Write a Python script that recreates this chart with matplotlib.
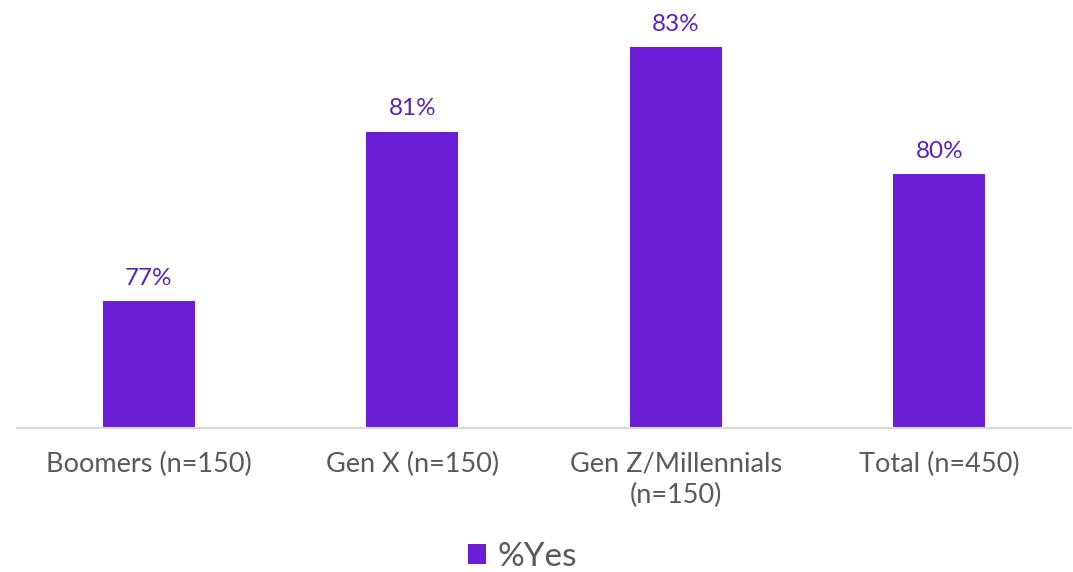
import matplotlib
matplotlib.use("Agg")
import matplotlib.pyplot as plt
from matplotlib.patches import Patch

categories = ["Boomers (n=150)", "Gen X (n=150)", "Gen Z/Millennials\n(n=150)", "Total (n=450)"]
values = [77, 81, 83, 80]
value_labels = ["77%", "81%", "83%", "80%"]
series_name = "%Yes"

plt.rcParams['font.family'] = ['Lato', 'DejaVu Sans']

bar_color = "#6C1ED6"
label_color = "#5A22B8"
text_color = "#595959"

fig = plt.figure(figsize=(10.73, 5.72), dpi=100)
ax = fig.add_axes([17/1073, 144/572, 1054/1073, 423/572])

x = list(range(len(categories)))
bars = ax.bar(x, values, width=0.35, color=bar_color, zorder=2)
ax.set_xlim(-0.5, 3.5)
ax.set_ylim(74, 84)

for xi, v, lab in zip(x, values, value_labels):
    ax.annotate(lab, (xi, v), xytext=(0, 9), textcoords="offset points",
                ha="center", va="bottom", fontsize=17.5, color=label_color)

ax.set_yticks([])
ax.set_xticks(x)
ax.set_xticklabels(categories, fontsize=19.5, color=text_color, linespacing=1.3)
ax.tick_params(axis="x", length=0, pad=17)
for s in ["top", "right", "left"]:
    ax.spines[s].set_visible(False)
ax.spines["bottom"].set_color("#D9D9D9")
ax.spines["bottom"].set_linewidth(1.5)

handles = [Patch(facecolor=bar_color, label=series_name)]
fig.legend(handles=handles, loc="center", bbox_to_anchor=(0.487, 0.027), frameon=False,
           labelcolor=text_color, handlelength=0.55, handleheight=0.55,
           handletextpad=0.35, prop={"size": 24})

fig.savefig("out.png", dpi=100)
